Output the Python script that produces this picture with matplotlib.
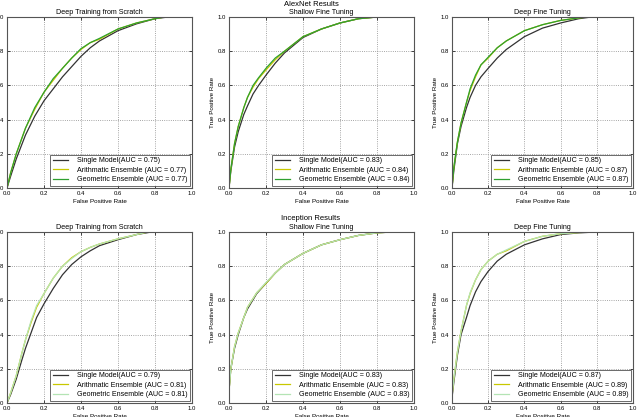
import matplotlib
matplotlib.use("Agg")
import matplotlib.pyplot as plt

plt.rcParams["font.family"] = ["Liberation Sans", "DejaVu Sans"]

# ---- data (fpr, tpr) ----
# AlexNet, deep training from scratch
alex_scratch_fpr = [0, 0.02, 0.05, 0.1, 0.15, 0.2, 0.25, 0.3, 0.35, 0.4, 0.45, 0.5, 0.6, 0.7, 0.8, 0.87]
alex_scratch_single = [0, 0.07, 0.17, 0.31, 0.42, 0.51, 0.58, 0.65, 0.71, 0.77, 0.82, 0.86, 0.92, 0.96, 0.99, 1.0]
alex_scratch_ens_fpr = [0, 0.02, 0.05, 0.1, 0.15, 0.2, 0.25, 0.3, 0.35, 0.4, 0.45, 0.5, 0.6, 0.7, 0.8, 0.85]
alex_scratch_arith = [0, 0.09, 0.2, 0.35, 0.46, 0.56, 0.63, 0.7, 0.76, 0.81, 0.85, 0.87, 0.93, 0.965, 0.99, 1.0]
alex_scratch_geom = [0, 0.09, 0.2, 0.35, 0.47, 0.56, 0.64, 0.7, 0.76, 0.815, 0.85, 0.875, 0.93, 0.965, 0.99, 1.0]

# AlexNet, shallow fine tuning
alex_shallow_fpr = [0, 0.01, 0.03, 0.05, 0.08, 0.1, 0.13, 0.16, 0.2, 0.25, 0.3, 0.4, 0.5, 0.6, 0.7, 0.8]
alex_shallow_single = [0, 0.1, 0.24, 0.33, 0.43, 0.48, 0.55, 0.6, 0.66, 0.73, 0.79, 0.88, 0.93, 0.965, 0.99, 1.0]
alex_shallow_arith = [0, 0.11, 0.26, 0.36, 0.47, 0.53, 0.59, 0.64, 0.69, 0.75, 0.8, 0.885, 0.93, 0.965, 0.99, 1.0]
alex_shallow_geom = [0, 0.11, 0.26, 0.36, 0.47, 0.53, 0.6, 0.645, 0.7, 0.76, 0.8, 0.885, 0.93, 0.965, 0.99, 1.0]

# AlexNet, deep fine tuning
alex_deep_fpr = [0, 0.01, 0.03, 0.05, 0.08, 0.1, 0.13, 0.16, 0.2, 0.25, 0.3, 0.4, 0.5, 0.6, 0.7, 0.77]
alex_deep_single = [0, 0.1, 0.26, 0.36, 0.47, 0.53, 0.6, 0.65, 0.7, 0.76, 0.81, 0.885, 0.935, 0.965, 0.99, 1.0]
alex_deep_ens_fpr = [0, 0.01, 0.03, 0.05, 0.08, 0.1, 0.13, 0.16, 0.2, 0.25, 0.3, 0.4, 0.5, 0.6, 0.7, 0.75]
alex_deep_arith = [0, 0.12, 0.27, 0.38, 0.5, 0.57, 0.65, 0.72, 0.76, 0.82, 0.86, 0.92, 0.955, 0.98, 0.995, 1.0]
alex_deep_geom = [0, 0.12, 0.27, 0.38, 0.5, 0.58, 0.66, 0.72, 0.765, 0.82, 0.86, 0.92, 0.955, 0.98, 0.995, 1.0]

# Inception, deep training from scratch
inc_scratch_fpr = [0, 0.02, 0.05, 0.08, 0.1, 0.13, 0.16, 0.2, 0.25, 0.3, 0.35, 0.4, 0.45, 0.5, 0.6, 0.7, 0.78]
inc_scratch_single = [0, 0.05, 0.14, 0.25, 0.32, 0.41, 0.5, 0.58, 0.67, 0.75, 0.81, 0.855, 0.89, 0.92, 0.955, 0.985, 1.0]
inc_scratch_ens_fpr = [0, 0.02, 0.05, 0.08, 0.1, 0.13, 0.16, 0.2, 0.25, 0.3, 0.35, 0.4, 0.45, 0.5, 0.6, 0.7, 0.76]
inc_scratch_arith = [0, 0.06, 0.16, 0.29, 0.37, 0.47, 0.56, 0.64, 0.73, 0.8, 0.85, 0.885, 0.91, 0.93, 0.96, 0.985, 1.0]
inc_scratch_geom = [0, 0.06, 0.16, 0.29, 0.37, 0.48, 0.57, 0.64, 0.73, 0.8, 0.845, 0.885, 0.91, 0.93, 0.96, 0.985, 1.0]

# Inception, shallow fine tuning
inc_shallow_fpr = [0, 0.01, 0.03, 0.05, 0.08, 0.1, 0.15, 0.2, 0.25, 0.3, 0.4, 0.5, 0.6, 0.7, 0.8, 0.88]
inc_shallow_single = [0.07, 0.2, 0.32, 0.4, 0.5, 0.55, 0.64, 0.7, 0.76, 0.81, 0.875, 0.925, 0.955, 0.98, 0.995, 1.0]
inc_shallow_arith = [0.07, 0.2, 0.33, 0.41, 0.5, 0.56, 0.645, 0.7, 0.76, 0.81, 0.875, 0.925, 0.955, 0.98, 0.995, 1.0]
inc_shallow_geom = [0.07, 0.2, 0.33, 0.41, 0.5, 0.56, 0.645, 0.705, 0.76, 0.81, 0.875, 0.925, 0.955, 0.98, 0.995, 1.0]

# Inception, deep fine tuning
inc_deep_fpr = [0, 0.01, 0.03, 0.05, 0.08, 0.1, 0.13, 0.16, 0.2, 0.25, 0.3, 0.4, 0.5, 0.6, 0.7, 0.8]
inc_deep_single = [0.03, 0.12, 0.28, 0.4, 0.5, 0.57, 0.65, 0.71, 0.77, 0.83, 0.87, 0.925, 0.96, 0.985, 0.995, 1.0]
inc_deep_arith = [0.04, 0.14, 0.3, 0.42, 0.57, 0.64, 0.72, 0.78, 0.83, 0.87, 0.89, 0.945, 0.975, 0.99, 0.997, 1.0]
inc_deep_geom = [0.04, 0.14, 0.3, 0.42, 0.57, 0.645, 0.72, 0.78, 0.83, 0.87, 0.895, 0.945, 0.975, 0.99, 0.997, 1.0]

TITLES = ["Deep Training from Scratch", "Shallow Fine Tuning", "Deep Fine Tuning"]
ALEX_AUC = [(0.75, 0.77, 0.77), (0.83, 0.84, 0.84), (0.85, 0.87, 0.87)]
INC_AUC = [(0.79, 0.81, 0.81), (0.83, 0.83, 0.83), (0.87, 0.89, 0.89)]

W, H = 640, 417
# panel boxes in pixels: (left, right); rows: (top, bottom)
COLS = [(7, 192), (229, 414), (452, 633)]
ROWS = [(17, 188), (232, 403)]


def roc_panel(ax, title, fpr_s, single, fpr_e, arith, geom, aucs, geom_color, ylabel):
    ax.plot(fpr_s, single, color="#333333", lw=0.9,
            label="Single Model(AUC = %.2f)" % aucs[0])
    ax.plot(fpr_e, arith, color="#c8c800", lw=0.9,
            label="Arithmatic Ensemble (AUC = %.2f)" % aucs[1])
    ax.plot(fpr_e, geom, color=geom_color, lw=0.9,
            label="Geometric Ensemble (AUC = %.2f)" % aucs[2])
    ax.set_xlim(0, 1)
    ax.set_ylim(0, 1)
    ax.set_xticks([0, 0.2, 0.4, 0.6, 0.8, 1.0])
    ax.set_yticks([0, 0.2, 0.4, 0.6, 0.8, 1.0])
    ax.grid(True, color="#888888", linestyle=":", lw=0.6)
    ax.tick_params(direction="in", length=2, width=0.5, labelsize=4.3, pad=2,
                   top=True, right=True)
    for s in ax.spines.values():
        s.set_linewidth(0.8)
        s.set_color("#555555")
    ax.set_title(title, fontsize=5.1, pad=2)
    ax.set_xlabel("False Positive Rate", fontsize=4.5, labelpad=2)
    if ylabel:
        ax.set_ylabel("True Positive Rate", fontsize=4.5, labelpad=2)
    leg = ax.legend(loc="lower right", fontsize=5.1, fancybox=False,
                    borderaxespad=0.25, handlelength=2.2, labelspacing=0.35,
                    handletextpad=1.2, borderpad=0.4)
    leg.get_frame().set_edgecolor("#444444")
    leg.get_frame().set_linewidth(0.7)


fig = plt.figure(figsize=(W / 100, H / 100), dpi=100)

alex = [
    (alex_scratch_fpr, alex_scratch_single, alex_scratch_ens_fpr, alex_scratch_arith, alex_scratch_geom),
    (alex_shallow_fpr, alex_shallow_single, alex_shallow_fpr, alex_shallow_arith, alex_shallow_geom),
    (alex_deep_fpr, alex_deep_single, alex_deep_ens_fpr, alex_deep_arith, alex_deep_geom),
]
inc = [
    (inc_scratch_fpr, inc_scratch_single, inc_scratch_ens_fpr, inc_scratch_arith, inc_scratch_geom),
    (inc_shallow_fpr, inc_shallow_single, inc_shallow_fpr, inc_shallow_arith, inc_shallow_geom),
    (inc_deep_fpr, inc_deep_single, inc_deep_fpr, inc_deep_arith, inc_deep_geom),
]

for r, (rows, aucs, gcol) in enumerate([(alex, ALEX_AUC, "#2fa02f"), (inc, INC_AUC, "#b4e4b4")]):
    top, bot = ROWS[r]
    for c, d in enumerate(rows):
        l, rr = COLS[c]
        ax = fig.add_axes([l / W, 1 - bot / H, (rr - l) / W, (bot - top) / H])
        roc_panel(ax, TITLES[c], *d, aucs[c], gcol, ylabel=(c > 0))

fig.text(311 / W, 1 - 4 / H, "AlexNet Results", ha="center", va="center", fontsize=5.5)
fig.text(311 / W, 1 - 218 / H, "Inception Results", ha="center", va="center", fontsize=5.5)

fig.savefig("out.png", dpi=100)
